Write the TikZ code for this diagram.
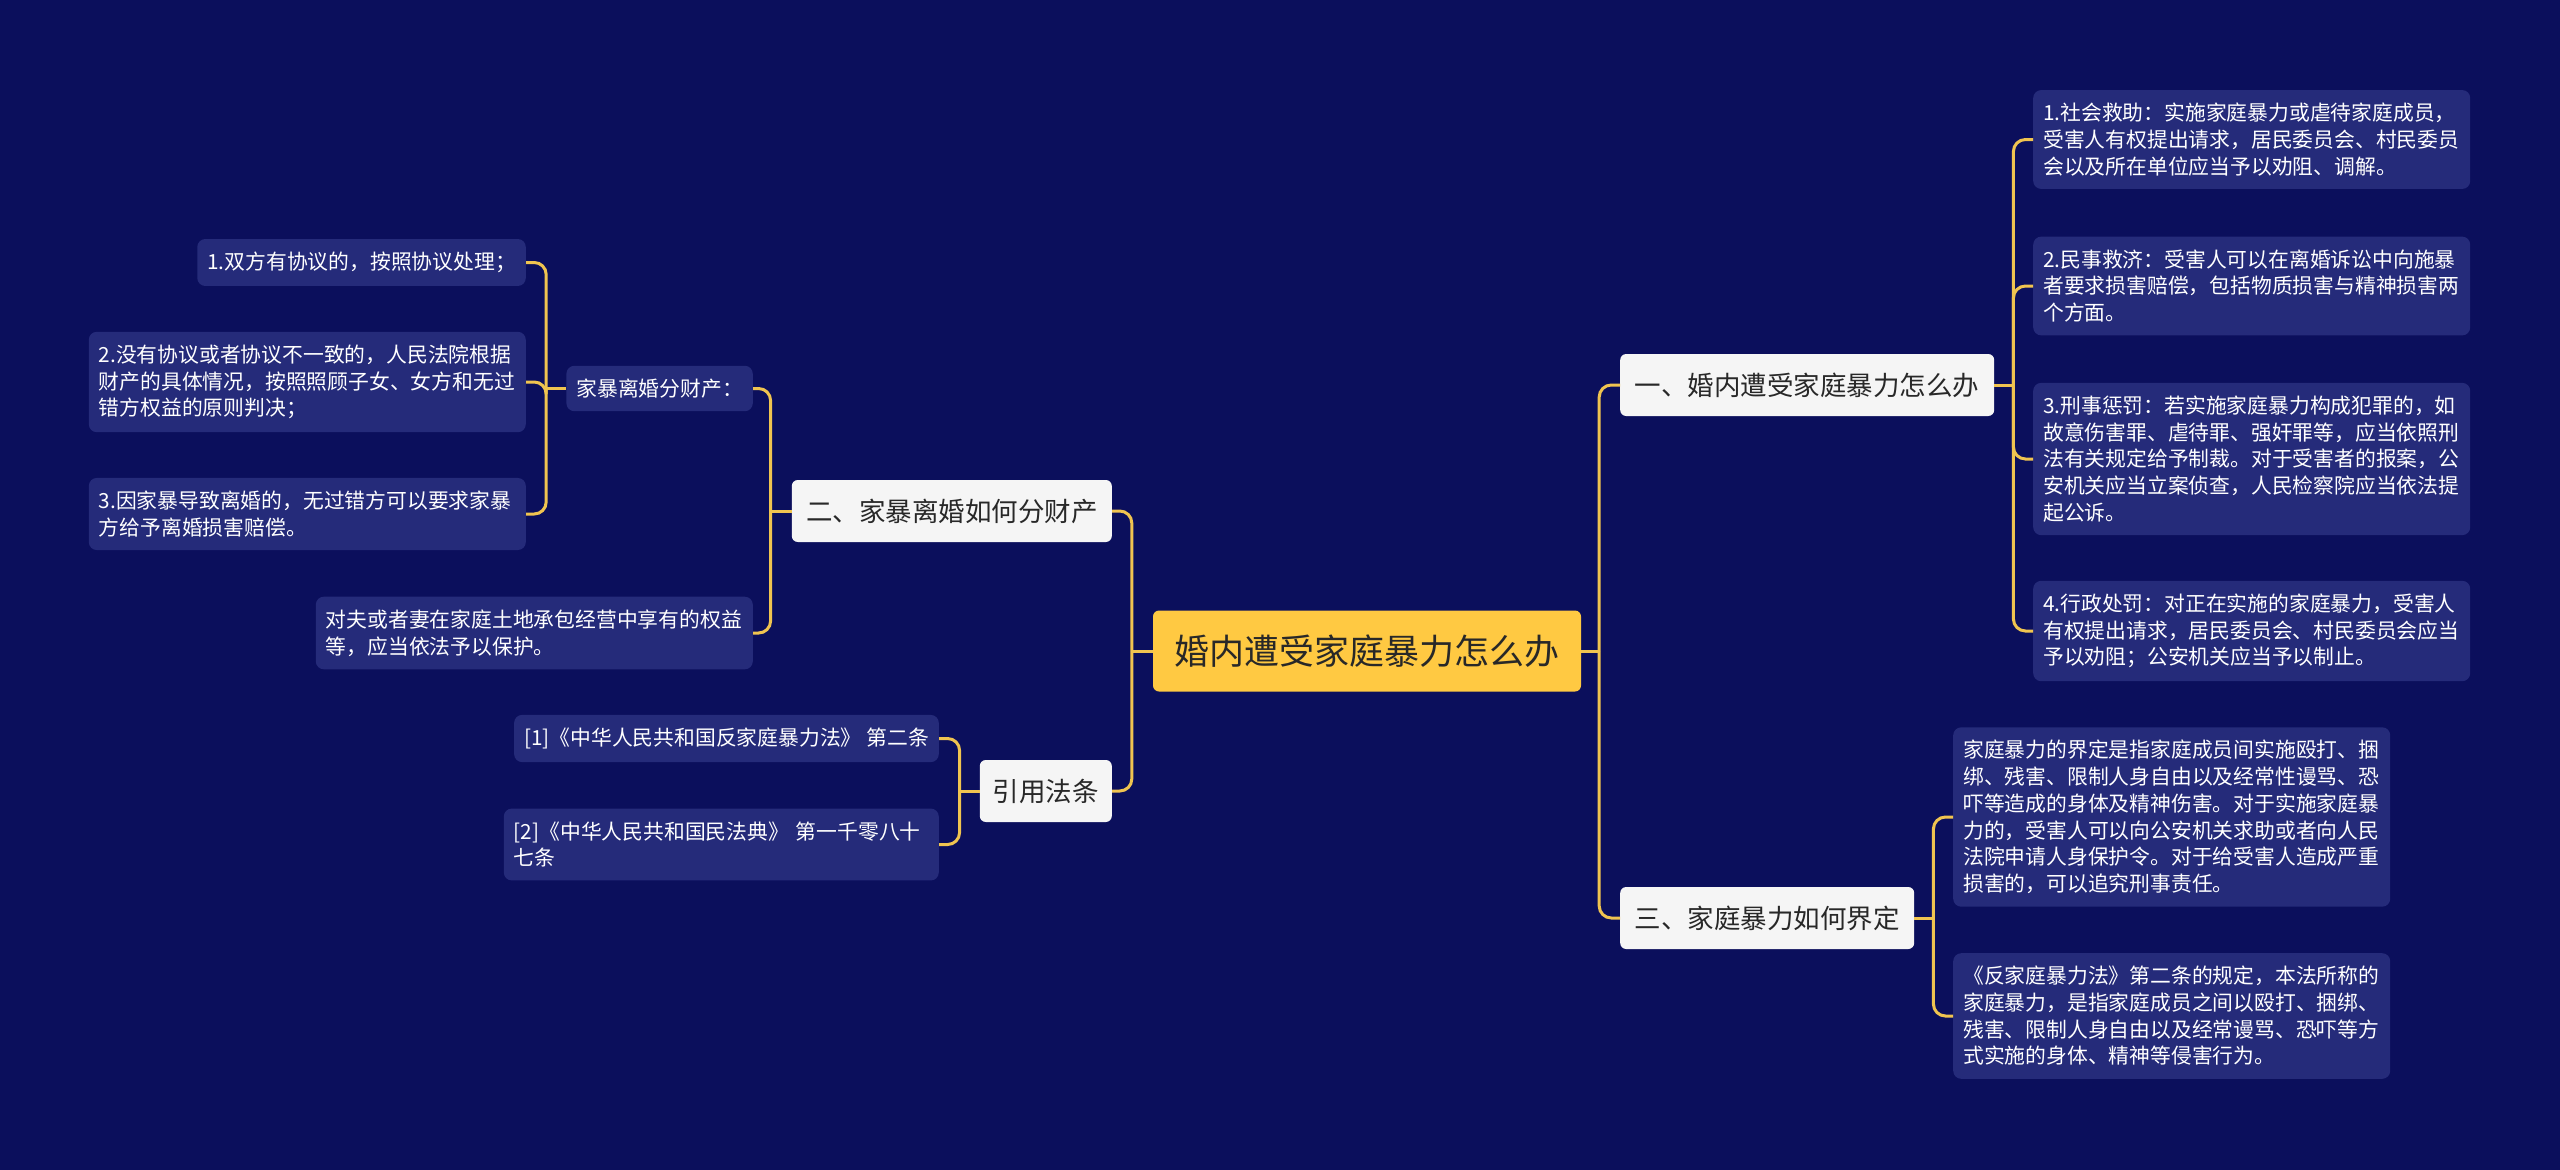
\documentclass[tikz,border=0pt]{standalone}
\usepackage{fontspec}
\newfontfamily\cjk{Noto Sans CJK SC}
\usepackage{xcolor}
\definecolor{bgnavy}{RGB}{11,15,92}
\definecolor{leafblue}{RGB}{37,43,122}
\definecolor{linegold}{RGB}{240,196,80}
\definecolor{rootgold}{RGB}{255,201,66}
\definecolor{branchwhite}{RGB}{245,245,245}
\definecolor{inkgray}{RGB}{40,40,40}
\usepackage{tikz}
\usetikzlibrary{positioning}

\tikzset{
  rootbox/.style={fill=rootgold, text=inkgray, rounded corners=6pt,
    font=\cjk\fontsize{35}{40}\selectfont, minimum height=81pt, minimum width=428pt},
  branchbox/.style={fill=branchwhite, text=inkgray, rounded corners=6pt,
    font=\cjk\fontsize{26.5}{32}\selectfont, minimum height=62pt, inner xsep=12pt},
  leafbox/.style={fill=leafblue, text=white, rounded corners=8pt,
    font=\cjk\fontsize{20.8}{26.7}\selectfont, align=left,
    inner xsep=10pt, inner ysep=13pt},
  wideleaf/.style={leafbox, text width=417pt},
  link/.style={draw=linegold, line width=3pt, rounded corners=12pt}
}

\begin{document}
\begin{tikzpicture}[x=1pt, y=-1pt]
\fill[bgnavy] (0,0) rectangle (2560,1170);
\useasboundingbox (0,0) rectangle (2560,1170);

% centre
\node[rootbox] (zhu) at (1367,651) {婚内遭受家庭暴力怎么办};
\coordinate[right=18pt of zhu] (jr);
\coordinate[left=21pt of zhu] (jl);

% right side
\node[branchbox, anchor=west, minimum width=374pt] (yi) at (1620,385) {一、婚内遭受家庭暴力怎么办};
\node[branchbox, anchor=west, minimum width=294pt] (san) at (1620,918) {三、家庭暴力如何界定};
\coordinate[right=19pt of yi] (jyi);
\coordinate[right=19pt of san] (jsan);

\node[wideleaf, anchor=west] (yi1) at (2033,139.5) {1.社会救助：实施家庭暴力或虐待家庭成员，\\受害人有权提出请求，居民委员会、村民委员\\会以及所在单位应当予以劝阻、调解。};
\node[wideleaf, anchor=west] (yi2) at (2033,286) {2.民事救济：受害人可以在离婚诉讼中向施暴\\者要求损害赔偿，包括物质损害与精神损害两\\个方面。};
\node[wideleaf, anchor=west] (yi3) at (2033,459) {3.刑事惩罚：若实施家庭暴力构成犯罪的，如\\故意伤害罪、虐待罪、强奸罪等，应当依照刑\\法有关规定给予制裁。对于受害者的报案，公\\安机关应当立案侦查，人民检察院应当依法提\\起公诉。};
\node[wideleaf, anchor=west] (yi4) at (2033,631) {4.行政处罚：对正在实施的家庭暴力，受害人\\有权提出请求，居民委员会、村民委员会应当\\予以劝阻；公安机关应当予以制止。};

\node[wideleaf, anchor=west] (san1) at (1953,817) {家庭暴力的界定是指家庭成员间实施殴打、捆\\绑、残害、限制人身自由以及经常性谩骂、恐\\吓等造成的身体及精神伤害。对于实施家庭暴\\力的，受害人可以向公安机关求助或者向人民\\法院申请人身保护令。对于给受害人造成严重\\损害的，可以追究刑事责任。};
\node[wideleaf, anchor=west] (san2) at (1953,1016) {《反家庭暴力法》第二条的规定，本法所称的\\家庭暴力，是指家庭成员之间以殴打、捆绑、\\残害、限制人身自由以及经常谩骂、恐吓等方\\式实施的身体、精神等侵害行为。};

% left side
\node[branchbox, anchor=east, minimum width=320pt] (er) at (1112,511) {二、家暴离婚如何分财产};
\node[branchbox, anchor=east, minimum width=132pt] (yinyong) at (1112,791) {引用法条};
\coordinate[left=21pt of er] (jer);
\coordinate[left=20pt of yinyong] (jyy);

\node[leafbox, anchor=east] (er1) at (753,388.5) {家暴离婚分财产：};
\node[wideleaf, anchor=east] (er2) at (753,633) {对夫或者妻在家庭土地承包经营中享有的权益\\等，应当依法予以保护。};
\coordinate[left=20pt of er1] (jer1);

\node[leafbox, anchor=east] (er11) at (526,262.5) {1.双方有协议的，按照协议处理；};
\node[wideleaf, anchor=east] (er12) at (526,382) {2.没有协议或者协议不一致的，人民法院根据\\财产的具体情况，按照照顾子女、女方和无过\\错方权益的原则判决；};
\node[wideleaf, anchor=east] (er13) at (526,514) {3.因家暴导致离婚的，无过错方可以要求家暴\\方给予离婚损害赔偿。};

\node[leafbox, anchor=east] (yy1) at (939,738.5) {[1]《中华人民共和国反家庭暴力法》 第二条};
\node[leafbox, anchor=east, text width=415pt] (yy2) at (939,844.5) {[2]《中华人民共和国民法典》 第一千零八十\\七条};

% connectors
\draw[link] (zhu.east) -- (jr);
\draw[link] (zhu.west) -- (jl);
\foreach \c in {yi,san} \draw[link] (jr) |- (\c.west);
\foreach \c in {er,yinyong} \draw[link] (jl) |- (\c.east);

\draw[link] (yi.east) -- (jyi);
\foreach \c in {yi1,yi2,yi3,yi4} \draw[link] (jyi) |- (\c.west);
\draw[link] (san.east) -- (jsan);
\foreach \c in {san1,san2} \draw[link] (jsan) |- (\c.west);

\draw[link] (er.west) -- (jer);
\foreach \c in {er1,er2} \draw[link] (jer) |- (\c.east);
\draw[link] (er1.west) -- (jer1);
\foreach \c in {er11,er12,er13} \draw[link] (jer1) |- (\c.east);

\draw[link] (yinyong.west) -- (jyy);
\foreach \c in {yy1,yy2} \draw[link] (jyy) |- (\c.east);
\end{tikzpicture}
\end{document}
